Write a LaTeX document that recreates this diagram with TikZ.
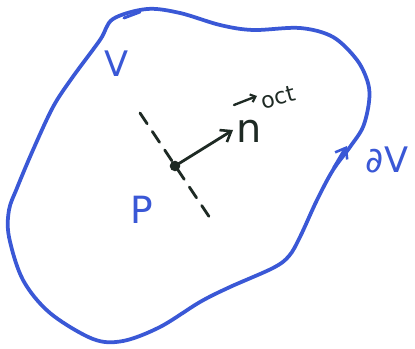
\documentclass[tikz,border=0pt]{standalone}
\usepackage{fontspec}
\setmainfont{DejaVu Sans}
\usetikzlibrary{arrows.meta}
\definecolor{pen}{RGB}{58,88,214}
\definecolor{ink}{RGB}{30,42,36}
\tikzset{
  outline/.style={pen, line width=3.2pt, line cap=round, line join=round},
  inkline/.style={ink, line width=2.4pt, line cap=round},
  barb/.style={-{Straight Barb[length=8pt,width=12pt,line width=2.2pt]}},
  lbl/.style={pen, font=\fontsize{30}{30}\selectfont, inner sep=0pt},
}
\begin{document}
\begin{tikzpicture}[x=0.03cm,y=-0.03cm]
\useasboundingbox[fill=white] (0,0) rectangle (415,349);
\draw[outline] plot[smooth cycle, tension=0.55] coordinates {
 (100,40) (113,19) (147,9) (180,13) (220,25) (253,30) (300,28) (333,37)
 (357,60) (368,83) (369,102) (363,127) (350,147) (333,170) (317,200)
 (300,237) (289,256) (273,268) (230,287) (200,302) (160,327) (123,341)
 (93,339) (50,313) (23,280) (9,237) (9,210) (17,188) (33,150) (53,107) (72,78)};
\coordinate (tA) at (140,12);
\coordinate (tB) at (124,18);
\draw[outline, line width=2.5pt] (tA) -- (tB);
\coordinate (dA) at (334,168);
\coordinate (dB) at (347,146);
\draw[outline, barb] (dA) -- (dB);
% dashed line
\coordinate (s1) at (140,113);
\coordinate (s2) at (210,218);
\draw[inkline, dash pattern=on 11pt off 8pt] (s1) -- (s2);
% point P
\node[circle, fill=ink, minimum size=9pt, inner sep=0pt] (P) at (175,166) {};
\coordinate (nTip) at (233,130);
\draw[inkline, barb] (P.center) -- (nTip);
% labels
\node[lbl] (V) at (117,64) {V};
\node[lbl, font=\fontsize{32}{32}\selectfont] (Plbl) at (142,210) {P};
\node[lbl] (dV) at (387,160) {∂V};
\node[ink, inner sep=0pt, font=\fontsize{34}{34}\selectfont] (n) at (249,131) {n};
\node[ink, inner sep=0pt, rotate=15, font=\fontsize{19}{19}\selectfont, anchor=south west] (oct) at (263,110) {oct};
\coordinate (vA) at (234,105);
\coordinate (vB) at (257,96);
\draw[inkline, line width=2pt, -{Straight Barb[length=4pt,width=7pt,line width=1.8pt]}] (vA) -- (vB);
\end{tikzpicture}
\end{document}
